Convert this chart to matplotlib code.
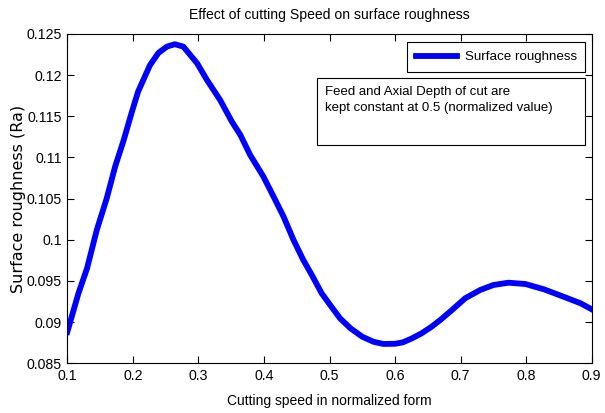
import matplotlib
matplotlib.use("Agg")
import matplotlib.pyplot as plt
from matplotlib import font_manager
from matplotlib.patches import Rectangle

# fall back to Liberation Sans if the narrow one is missing
names = {f.name for f in font_manager.fontManager.ttflist}
narrow = 'Liberation Sans Narrow' if 'Liberation Sans Narrow' in names else 'Liberation Sans'
plt.rcParams['font.family'] = [narrow, 'DejaVu Sans']

# values
speed = [0.100, 0.117, 0.130, 0.145, 0.160, 0.173, 0.186, 0.198, 0.208, 0.226,
         0.239, 0.252, 0.264, 0.277, 0.298, 0.313, 0.333, 0.351, 0.364, 0.379,
         0.399, 0.415, 0.430, 0.445, 0.460, 0.473, 0.488, 0.501, 0.516, 0.532,
         0.550, 0.567, 0.582, 0.600, 0.612, 0.625, 0.640, 0.655, 0.669, 0.687,
         0.707, 0.730, 0.750, 0.773, 0.799, 0.827, 0.857, 0.883, 0.900]
roughness = [0.0888, 0.0935, 0.0965, 0.1012, 0.1050, 0.1089, 0.1121, 0.1154, 0.1180, 0.1212,
             0.1227, 0.12347, 0.12376, 0.12347, 0.12145, 0.11942, 0.1170, 0.11436, 0.11274, 0.1103,
             0.1077, 0.1052, 0.1028, 0.1000, 0.09755, 0.09573, 0.09351, 0.09208, 0.09047, 0.08925,
             0.08823, 0.08762, 0.08735, 0.08737, 0.08755, 0.08800, 0.08862, 0.08940, 0.09026, 0.09148,
             0.0929, 0.09391, 0.09451, 0.09479, 0.09463, 0.09399, 0.09309, 0.09229, 0.09156]

xticks = [0.1, 0.2, 0.3, 0.4, 0.5, 0.6, 0.7, 0.8, 0.9]
yticks = [0.085, 0.09, 0.095, 0.1, 0.105, 0.11, 0.115, 0.12, 0.125]
ytick_labels = ['0.085', '0.09', '0.095', '0.1', '0.105', '0.11', '0.115', '0.12', '0.125']

fig = plt.figure(figsize=(6.05, 4.13), dpi=100)
ax = fig.add_axes([67.3/605, 1-363.3/413, 524.4/605, 329.3/413])

ax.plot(speed, roughness, color='#0000ff', lw=4.2, label='Surface roughness')

ax.set_xlim(0.1, 0.9)
ax.set_ylim(0.085, 0.125)
ax.set_xticks(xticks)
ax.set_xticklabels([str(t) for t in xticks])
ax.set_yticks(yticks)
ax.set_yticklabels(ytick_labels)
ax.tick_params(direction='in', top=True, right=True, length=5, width=0.8,
               labelsize=10.2, pad=4)
for s in ax.spines.values():
    s.set_linewidth(0.8)

ax.set_title('Effect of cutting Speed on surface roughness', fontsize=10.1, pad=11)
ax.set_xlabel('Cutting speed in normalized form', fontsize=10)
ax.xaxis.set_label_coords(0.5, -0.092)
ax.set_ylabel('Surface roughness (Ra)', fontsize=11.5, family='DejaVu Sans')
ax.yaxis.set_label_coords(-0.079, 0.5)

leg = ax.legend(loc='upper right', bbox_to_anchor=(0.988, 0.975), fancybox=False,
                framealpha=1, edgecolor='black', fontsize=9.6, handlelength=3.1,
                borderpad=0.65, handletextpad=0.55, borderaxespad=0)
leg.get_frame().set_linewidth(0.8)

# note box
ax.add_patch(Rectangle((0.476, 0.663), 0.511, 0.203, transform=ax.transAxes,
                       facecolor='white', edgecolor='black', lw=0.8, zorder=5))
ax.text(0.492, 0.843, 'Feed and Axial Depth of cut are\nkept constant at 0.5 (normalized value)',
        transform=ax.transAxes, fontsize=9.5, va='top', ha='left', linespacing=1.45,
        zorder=6)

fig.savefig('out.png', dpi=100)
